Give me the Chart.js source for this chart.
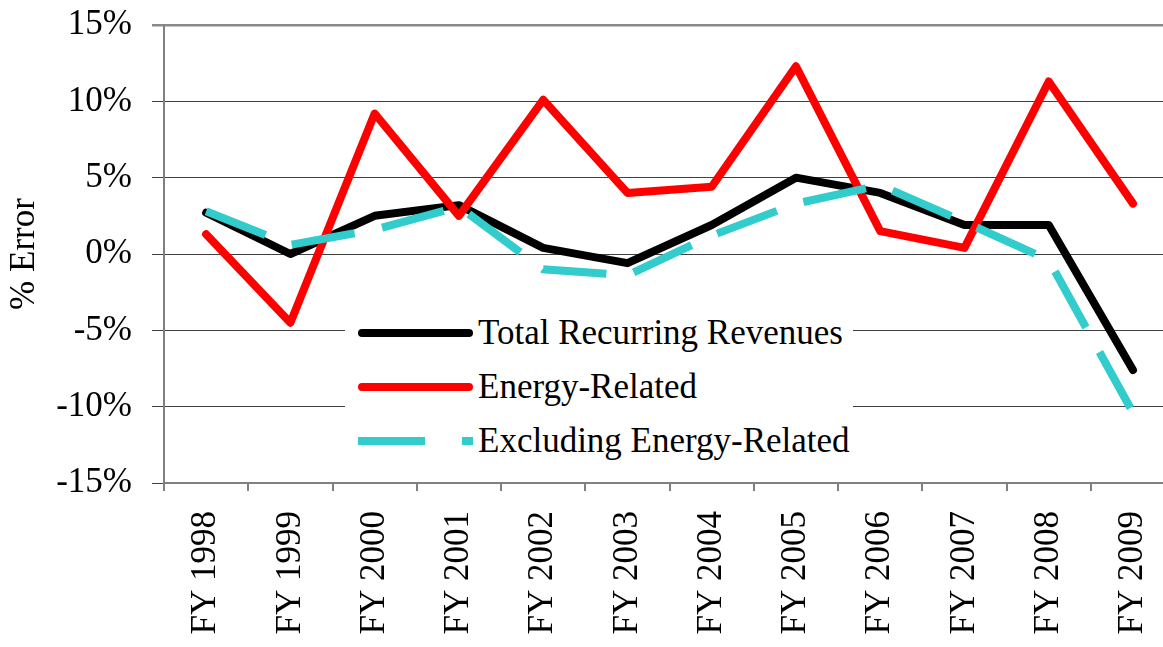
<!DOCTYPE html>
<html>
<head>
<meta charset="utf-8">
<script src="https://cdn.jsdelivr.net/npm/chart.js@4"></script>
<style>
  html, body { margin: 0; padding: 0; background: #fff; overflow: hidden; }
  .chart-container { position: relative; width: 1195px; height: 647px; }
  .legend-box {
    position: absolute; left: 345px; top: 306px; width: 508px; height: 164px;
    background: #fff; font-family: 'Liberation Serif', 'Times New Roman', serif; font-size: 35px;
  }
  .legend-row { display: flex; align-items: center; height: 54px; padding-left: 13px; }
  .legend-row svg { width: 115px; height: 14px; margin-right: 5px; flex: none; }
</style>
</head>
<body>
<div class="chart-container">
  <canvas id="line-chart"></canvas>
  <div class="legend-box" id="legend"></div>
</div>
<script>
const categories = ['FY 1998', 'FY 1999', 'FY 2000', 'FY 2001', 'FY 2002', 'FY 2003',
  'FY 2004', 'FY 2005', 'FY 2006', 'FY 2007', 'FY 2008', 'FY 2009'];
const totalRecurring = [2.7, 0.0, 2.5, 3.2, 0.4, -0.6, 1.9, 5.0, 4.0, 1.9, 1.9, -7.6];
const energyRelated = [1.3, -4.5, 9.2, 2.5, 10.1, 4.0, 4.4, 12.3, 1.5, 0.4, 11.3, 3.3];
const excludingEnergy = [2.8, 0.6, 1.6, 3.1, -1.0, -1.4, 1.2, 3.3, 4.5, 2.1, -0.4, -10.4];
const yTicks = [-15, -10, -5, 0, 5, 10, 15];

const serif = "'Liberation Serif', 'Times New Roman', serif";

const dataLine = {
  type: 'line',
  data: {
    labels: categories,
    datasets: [{
      label: 'Total Recurring Revenues',
      data: totalRecurring,
      borderColor: '#000000',
      borderWidth: 8,
      borderCapStyle: 'round',
      borderJoinStyle: 'round',
      order: 2
    },
    {
      label: 'Energy-Related',
      data: energyRelated,
      borderColor: '#ff0000',
      borderWidth: 8,
      borderCapStyle: 'round',
      borderJoinStyle: 'round',
      order: 1
    },
    {
      label: 'Excluding Energy-Related',
      data: excludingEnergy,
      borderColor: '#33cccc',
      borderWidth: 8,
      borderDash: [64, 28],
      borderCapStyle: 'butt',
      borderJoinStyle: 'miter',
      order: 0
    }]
  },
  options: {
    responsive: true,
    maintainAspectRatio: false,
    animation: false,
    layout: { padding: { top: 25, right: 0, left: 0, bottom: 0 } },
    elements: { point: { radius: 0, hoverRadius: 0 }, line: { tension: 0 } },
    plugins: { legend: { display: false }, tooltip: { enabled: false } },
    scales: {
      x: {
        offset: true,
        grid: { offset: true, drawOnChartArea: false, drawTicks: true, tickLength: 8, color: '#808080', lineWidth: 2 },
        border: { color: '#808080', width: 2 },
        ticks: {
          color: '#000', font: { family: serif, size: 35 },
          minRotation: 90, maxRotation: 90, autoSkip: false, padding: 20
        },
        afterFit: (scale) => { scale.height = 164; }
      },
      y: {
        min: -15,
        max: 15,
        afterBuildTicks: (scale) => { scale.ticks = yTicks.map(v => ({ value: v })); },
        grid: {
          color: (ctx) => ctx.tick && ctx.tick.value === 15 ? '#8a8a8a' : '#404040',
          lineWidth: (ctx) => ctx.tick && ctx.tick.value === 15 ? 2.5 : 1,
          tickLength: 12
        },
        border: { color: '#808080', width: 2 },
        ticks: {
          color: '#000', font: { family: serif, size: 35 }, padding: 20,
          callback: (v) => v + '%'
        },
        title: { display: true, text: '% Error', color: '#000', font: { family: serif, size: 35 }, padding: 4 },
        afterFit: (scale) => {
          scale.width = 164;
          scale.paddingTop = 0;
          scale.paddingBottom = 0;
        }
      }
    }
  }
};

const chart = new Chart(document.getElementById('line-chart'), dataLine);

// legend drawn as html so it can sit inside the plot like the original
function buildLegend () {
  const box = document.getElementById('legend');
  chart.data.datasets.forEach((ds) => {
    const row = document.createElement('div');
    row.className = 'legend-row';
    const dash = ds.borderDash ? `stroke-dasharray="67 37"` : '';
    const cap = ds.borderCapStyle === 'round' ? 'round' : 'butt';
    const pad = cap === 'round' ? 4 : 0;
    row.innerHTML = `<svg viewBox="0 0 115 14"><line x1="${pad}" y1="7" x2="${115 - pad}" y2="7" stroke="${ds.borderColor}" stroke-width="8" stroke-linecap="${cap}" ${dash}/></svg><span>${ds.label}</span>`;
    box.appendChild(row);
  });
}
buildLegend();
</script>
</body>
</html>
